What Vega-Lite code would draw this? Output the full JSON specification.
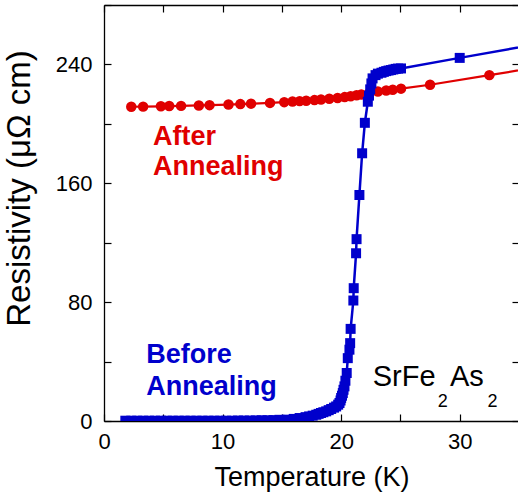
{
  "$schema": "https://vega.github.io/schema/vega-lite/v6.json",
  "width": 415,
  "height": 416,
  "autosize": {"type": "none"},
  "padding": {"left": 104, "top": 5, "right": 0, "bottom": 76},
  "background": "white",
  "config": {
    "view": {"stroke": null},
    "axis": {
      "grid": false,
      "labelFont": "Liberation Sans",
      "titleFont": "Liberation Sans",
      "labelFontSize": 22,
      "labelColor": "#000000",
      "titleColor": "#000000",
      "titleFontWeight": "normal",
      "domainColor": "#000000",
      "tickColor": "#000000",
      "domainWidth": 1.3,
      "tickWidth": 1.2,
      "labelFlush": false,
      "labelOverlap": false
    }
  },
  "datasets": {
    "after": [
      {"T": 2.3, "R": 211.5}, {"T": 3.3, "R": 211.6}, {"T": 4.8, "R": 211.8}, {"T": 5.5, "R": 212.0},
      {"T": 6.5, "R": 212.1}, {"T": 8.0, "R": 212.4}, {"T": 8.9, "R": 212.6}, {"T": 10.5, "R": 213.0},
      {"T": 11.5, "R": 213.3}, {"T": 12.4, "R": 213.6}, {"T": 14.0, "R": 214.1}, {"T": 15.2, "R": 214.6},
      {"T": 15.9, "R": 215.0}, {"T": 16.5, "R": 215.3}, {"T": 17.05, "R": 215.6}, {"T": 17.75, "R": 216.0},
      {"T": 18.3, "R": 216.4}, {"T": 19.0, "R": 216.9}, {"T": 19.7, "R": 217.4}, {"T": 20.3, "R": 218.0},
      {"T": 20.8, "R": 218.6}, {"T": 21.3, "R": 219.2}, {"T": 21.7, "R": 219.8}, {"T": 22.4, "R": 221.0},
      {"T": 23.1, "R": 221.8}, {"T": 23.8, "R": 222.5}, {"T": 24.35, "R": 223.0}, {"T": 25.05, "R": 223.7},
      {"T": 27.5, "R": 226.3}, {"T": 32.5, "R": 232.8}, {"T": 37.5, "R": 239.3}
    ],
    "before": [
      {"T": 1.8, "R": 0.2}, {"T": 2.3, "R": 0.2}, {"T": 2.8, "R": 0.2}, {"T": 3.3, "R": 0.2},
      {"T": 3.8, "R": 0.2}, {"T": 4.3, "R": 0.2}, {"T": 4.8, "R": 0.2}, {"T": 5.3, "R": 0.2},
      {"T": 5.8, "R": 0.2}, {"T": 6.3, "R": 0.2}, {"T": 6.8, "R": 0.2}, {"T": 7.3, "R": 0.2},
      {"T": 7.8, "R": 0.2}, {"T": 8.3, "R": 0.2}, {"T": 8.8, "R": 0.2}, {"T": 9.3, "R": 0.2},
      {"T": 9.8, "R": 0.2}, {"T": 10.3, "R": 0.2}, {"T": 10.8, "R": 0.2}, {"T": 11.3, "R": 0.3},
      {"T": 11.8, "R": 0.3}, {"T": 12.3, "R": 0.3}, {"T": 12.8, "R": 0.4}, {"T": 13.3, "R": 0.5},
      {"T": 13.8, "R": 0.5}, {"T": 14.3, "R": 0.6}, {"T": 14.8, "R": 0.8}, {"T": 15.4, "R": 0.9},
      {"T": 16.0, "R": 1.4}, {"T": 16.5, "R": 2.0}, {"T": 17.0, "R": 2.6}, {"T": 17.3, "R": 3.1},
      {"T": 17.6, "R": 3.6}, {"T": 17.9, "R": 4.2}, {"T": 18.1, "R": 4.8}, {"T": 18.3, "R": 5.4},
      {"T": 18.5, "R": 5.9}, {"T": 18.74, "R": 6.5}, {"T": 18.95, "R": 7.3}, {"T": 19.16, "R": 8.1},
      {"T": 19.4, "R": 9.0}, {"T": 19.58, "R": 9.8}, {"T": 19.75, "R": 11.0}, {"T": 19.86, "R": 12.1},
      {"T": 19.95, "R": 13.8}, {"T": 20.0, "R": 15.5}, {"T": 20.07, "R": 17.0}, {"T": 20.14, "R": 18.8},
      {"T": 20.2, "R": 21.0}, {"T": 20.28, "R": 23.3}, {"T": 20.36, "R": 27.1}, {"T": 20.47, "R": 32.3},
      {"T": 20.56, "R": 42.3}, {"T": 20.7, "R": 48.0}, {"T": 20.76, "R": 52.4}, {"T": 20.8, "R": 62.0},
      {"T": 21.03, "R": 81.1}, {"T": 21.06, "R": 89.4}, {"T": 21.26, "R": 112.9}, {"T": 21.3, "R": 122.4},
      {"T": 21.54, "R": 152.1}, {"T": 21.77, "R": 180.2}, {"T": 22.0, "R": 200.7}, {"T": 22.25, "R": 214.9},
      {"T": 22.35, "R": 219.0}, {"T": 22.45, "R": 223.2}, {"T": 22.55, "R": 227.2}, {"T": 22.65, "R": 230.6},
      {"T": 22.9, "R": 232.8}, {"T": 23.1, "R": 233.8}, {"T": 23.4, "R": 234.4}, {"T": 23.6, "R": 235.0},
      {"T": 23.8, "R": 235.5}, {"T": 24.0, "R": 235.9}, {"T": 24.2, "R": 236.2}, {"T": 24.4, "R": 236.6},
      {"T": 24.6, "R": 237.0}, {"T": 24.8, "R": 237.2}, {"T": 25.05, "R": 237.3}, {"T": 30.0, "R": 244.4},
      {"T": 37.5, "R": 255.0}
    ],
    "afterLabel": [
      {"T": 4.13, "R": 185.7, "text": "After"},
      {"T": 4.13, "R": 165.6, "text": "Annealing"}
    ],
    "beforeLabel": [
      {"T": 3.57, "R": 39.0, "text": "Before"},
      {"T": 3.57, "R": 17.7, "text": "Annealing"}
    ],
    "formulaMain": [
      {"T": 22.66, "R": 23.3, "text": "SrFe"},
      {"T": 29.18, "R": 23.3, "text": "As"}
    ],
    "formulaSub": [
      {"T": 28.14, "R": 9.4, "text": "2"},
      {"T": 32.35, "R": 9.4, "text": "2"}
    ]
  },
  "layer": [
    {
      "data": {"name": "after"},
      "mark": {"type": "line", "color": "#e00000", "strokeWidth": 2.2, "clip": true},
      "encoding": {
        "x": {"field": "T", "type": "quantitative", "scale": {"domain": [0, 35], "nice": false, "zero": false},
          "axis": {"orient": "bottom", "values": [0, 5, 10, 15, 20, 25, 30, 35],
            "labelExpr": "datum.value % 10 == 0 ? datum.label : ''",
            "tickSize": -7, "labelPadding": 17, "title": "Temperature (K)", "titleFontSize": 27, "titlePadding": 12}},
        "y": {"field": "R", "type": "quantitative", "scale": {"domain": [0, 280], "nice": false, "zero": false},
          "axis": {"orient": "left", "values": [0, 40, 80, 120, 160, 200, 240, 280],
            "labelExpr": "datum.value % 80 == 0 ? datum.label : ''",
            "tickSize": -7, "labelPadding": 19, "title": "Resistivity (μΩ cm)", "titleFontSize": 33, "titlePadding": 19, "titleY": 183}}
      }
    },
    {
      "data": {"name": "after"},
      "mark": {"type": "circle", "color": "#e00000", "size": 110, "opacity": 1, "clip": true},
      "encoding": {
        "x": {"field": "T", "type": "quantitative", "scale": {"domain": [0, 35], "nice": false, "zero": false}, "axis": null},
        "y": {"field": "R", "type": "quantitative", "scale": {"domain": [0, 280], "nice": false, "zero": false}, "axis": null}
      }
    },
    {
      "data": {"name": "before"},
      "mark": {"type": "line", "color": "#0000cc", "strokeWidth": 2.5, "clip": true},
      "encoding": {
        "x": {"field": "T", "type": "quantitative", "scale": {"domain": [0, 35], "nice": false, "zero": false}, "axis": null},
        "y": {"field": "R", "type": "quantitative", "scale": {"domain": [0, 280], "nice": false, "zero": false}, "axis": null}
      }
    },
    {
      "data": {"name": "before"},
      "mark": {"type": "square", "color": "#0000cc", "size": 100, "opacity": 1, "clip": true},
      "encoding": {
        "x": {"field": "T", "type": "quantitative", "scale": {"domain": [0, 35], "nice": false, "zero": false},
          "axis": {"orient": "top", "values": [0, 5, 10, 15, 20, 25, 30, 35], "labels": false, "tickSize": -7, "title": null}},
        "y": {"field": "R", "type": "quantitative", "scale": {"domain": [0, 280], "nice": false, "zero": false},
          "axis": {"orient": "right", "values": [0, 40, 80, 120, 160, 200, 240, 280], "labels": false, "tickSize": -7, "title": null}}
      }
    },
    {
      "data": {"name": "afterLabel"},
      "mark": {"type": "text", "color": "#e00000", "font": "Liberation Sans", "fontWeight": "bold", "fontSize": 27, "align": "left", "baseline": "alphabetic"},
      "encoding": {
        "x": {"field": "T", "type": "quantitative", "scale": {"domain": [0, 35], "nice": false, "zero": false}, "axis": null},
        "y": {"field": "R", "type": "quantitative", "scale": {"domain": [0, 280], "nice": false, "zero": false}, "axis": null},
        "text": {"field": "text"}
      }
    },
    {
      "data": {"name": "beforeLabel"},
      "mark": {"type": "text", "color": "#0000cc", "font": "Liberation Sans", "fontWeight": "bold", "fontSize": 27, "align": "left", "baseline": "alphabetic"},
      "encoding": {
        "x": {"field": "T", "type": "quantitative", "scale": {"domain": [0, 35], "nice": false, "zero": false}, "axis": null},
        "y": {"field": "R", "type": "quantitative", "scale": {"domain": [0, 280], "nice": false, "zero": false}, "axis": null},
        "text": {"field": "text"}
      }
    },
    {
      "data": {"name": "formulaMain"},
      "mark": {"type": "text", "color": "#000000", "font": "Liberation Sans", "fontSize": 29, "align": "left", "baseline": "alphabetic"},
      "encoding": {
        "x": {"field": "T", "type": "quantitative", "scale": {"domain": [0, 35], "nice": false, "zero": false}, "axis": null},
        "y": {"field": "R", "type": "quantitative", "scale": {"domain": [0, 280], "nice": false, "zero": false}, "axis": null},
        "text": {"field": "text"}
      }
    },
    {
      "data": {"name": "formulaSub"},
      "mark": {"type": "text", "color": "#000000", "font": "Liberation Sans", "fontSize": 18, "align": "left", "baseline": "alphabetic"},
      "encoding": {
        "x": {"field": "T", "type": "quantitative", "scale": {"domain": [0, 35], "nice": false, "zero": false}, "axis": null},
        "y": {"field": "R", "type": "quantitative", "scale": {"domain": [0, 280], "nice": false, "zero": false}, "axis": null},
        "text": {"field": "text"}
      }
    }
  ],
  "resolve": {"axis": {"x": "independent", "y": "independent"}}
}
